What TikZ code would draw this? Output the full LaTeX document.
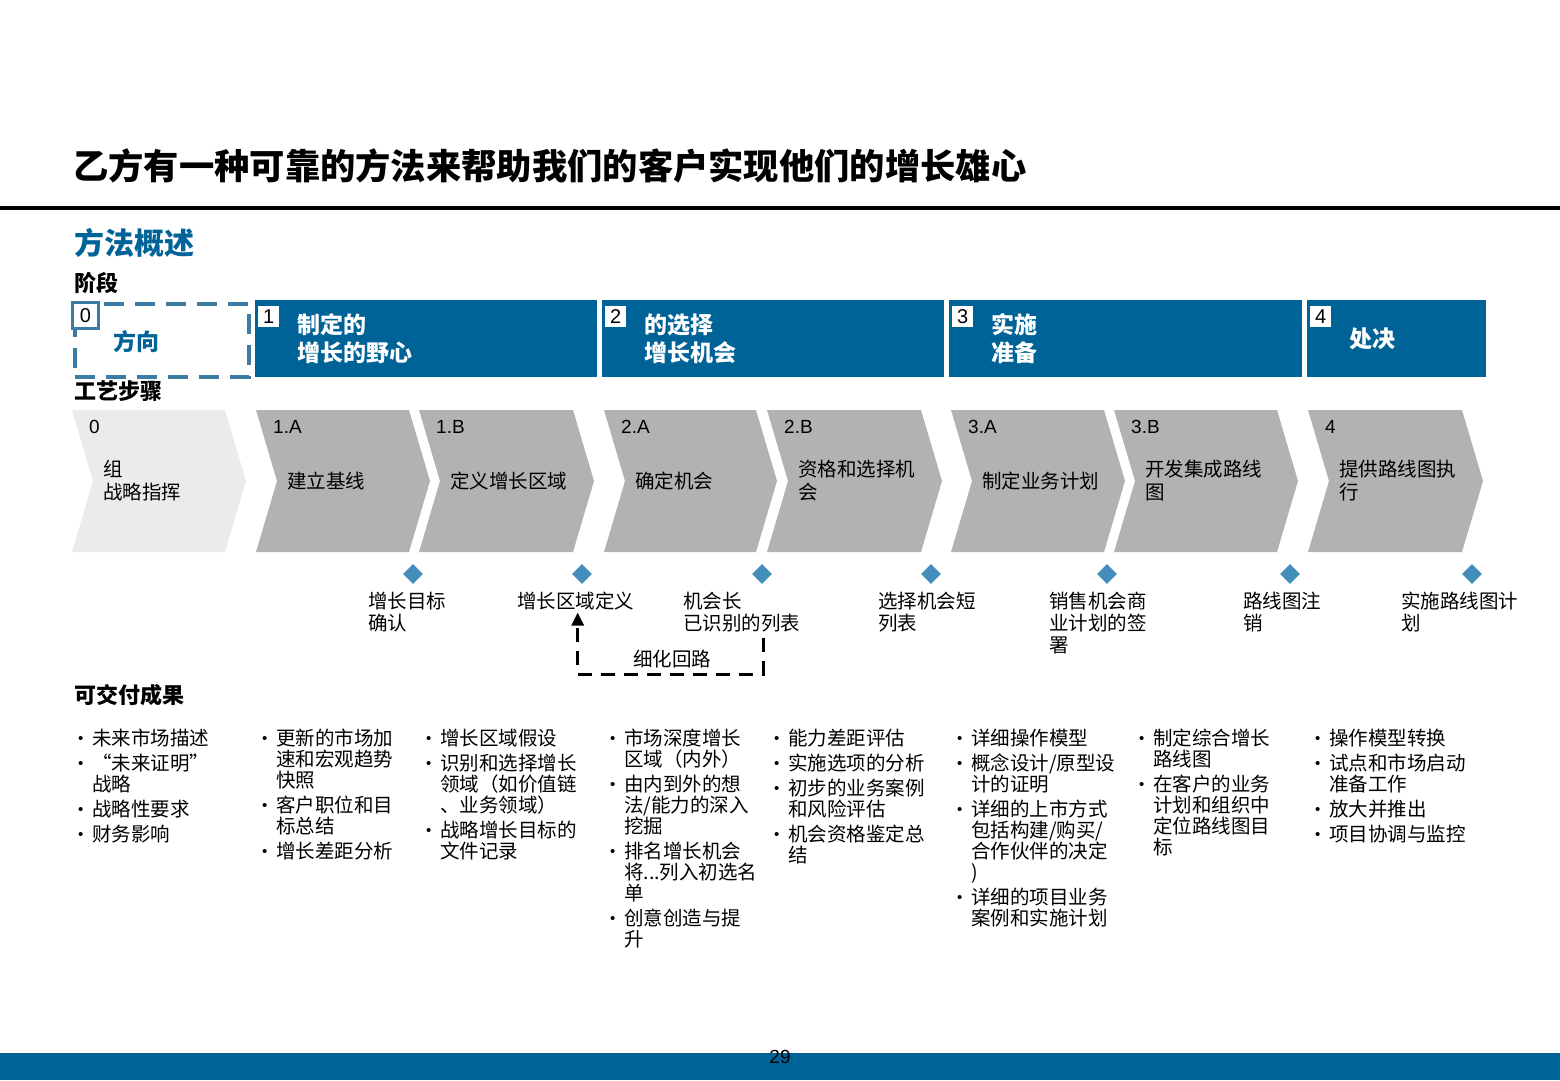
\documentclass[tikz,border=0pt]{standalone}
\usepackage{fontspec}
\setmainfont{Noto Sans CJK SC}
\newfontfamily\latinfont{Liberation Sans}
\usetikzlibrary{
    positioning,
    arrows.meta,
    shapes.geometric
}
\definecolor{phaseBlue}{RGB}{0, 99, 152}
\definecolor{dashBlue}{RGB}{60, 124, 164}
\definecolor{markBlue}{RGB}{66, 141, 185}
\definecolor{stepGray}{RGB}{178, 178, 178}
\definecolor{stepLight}{RGB}{235, 235, 235}
\newcommand{\dlv}[1]{\par\hangindent=14pt\hangafter=1\noindent\makebox[14pt][l]{\raisebox{2pt}{\latinfont\fontsize{15}{15}\selectfont\textbullet}}{\let\\\newline #1}\par\vspace{4pt}}

\begin{document}
\begin{tikzpicture}[x=1pt, y=-1pt,
    heading/.style={anchor=west, inner sep=0, font=\bfseries\fontsize{22}{26}\selectfont},
    phasebox/.style={anchor=north west, fill=phaseBlue, minimum height=77pt, inner sep=0},
    numbox/.style={anchor=north west, fill=white, minimum width=21pt, minimum height=21pt, inner sep=0, font=\latinfont\fontsize{20}{20}\selectfont},
    phasetitle/.style={anchor=west, inner sep=0, align=left, text=white, font=\bfseries\fontsize{23}{28}\selectfont},
    stepnum/.style={anchor=west, inner sep=0, font=\latinfont\fontsize{19}{20}\selectfont},
    steptext/.style={anchor=west, inner sep=0, align=left, font=\fontsize{19.5}{23}\selectfont},
    milestone/.style={diamond, fill=markBlue, inner sep=0, minimum size=20pt},
    mslabel/.style={anchor=north west, inner sep=0, align=left, font=\fontsize{19.5}{22}\selectfont},
    loopline/.style={line width=3pt, dash pattern=on 14pt off 9pt, -{Triangle[length=13pt, width=12pt]}},
    dlvcol/.style={anchor=north west, inner sep=0, text width=175pt, align=left, font=\fontsize{19.5}{21}\selectfont}
]
    \useasboundingbox (0,0) rectangle (1560,1080);
    % title and rule
    \node[anchor=west, inner sep=0, font=\bfseries\fontsize{35.3}{40}\selectfont] (title) at (73,166) {乙方有一种可靠的方法来帮助我们的客户实现他们的增长雄心};
    \draw[line width=4.5pt] (0,208) -- (1560,208);
    \node[heading, text=phaseBlue, font=\bfseries\fontsize{30}{34}\selectfont] (overview) at (74,243) {方法概述};
    \node[heading] (phases) at (74,283) {阶段};
    \node[heading] (steps) at (74,391) {工艺步骤};
    \node[heading] (results) at (74,695) {可交付成果};

    % phases
    \node[anchor=north west, draw=dashBlue, line width=3.5pt, dash pattern=on 20pt off 11pt, minimum width=174pt, minimum height=73pt, inner sep=0] (ph0) at (73,302) {};
    \node[phasebox, minimum width=342pt] (ph1) at (255,300) {};
    \node[phasebox, minimum width=342pt] (ph2) at (602,300) {};
    \node[phasebox, minimum width=353pt] (ph3) at (949,300) {};
    \node[phasebox, minimum width=179pt] (ph4) at (1307,300) {};
    \node[numbox, draw=dashBlue, line width=3pt, minimum width=26pt, minimum height=26pt] (n0) at (71,301) {0};
    \foreach \i in {1,...,4}
        \node[numbox] (n\i) at ([xshift=3pt, yshift=-6pt]ph\i.north west) {\i};
    \node[phasetitle, text=phaseBlue] (t0) at ([xshift=40pt, yshift=-1pt]ph0.west) {方向};
    \node[phasetitle] (t1) at ([xshift=42pt]ph1.west) {制定的\\增长的野心};
    \node[phasetitle] (t2) at ([xshift=42pt]ph2.west) {的选择\\增长机会};
    \node[phasetitle] (t3) at ([xshift=42pt]ph3.west) {实施\\准备};
    \node[phasetitle] (t4) at ([xshift=42pt]ph4.west) {处决};

    % process steps
    \foreach \sx/\sp/\sc/\sn/\snum/\stxt in {
        72/246/stepLight/s0/0/{组\\战略指挥},
        256/430/stepGray/s1a/1.A/{建立基线},
        419/594/stepGray/s1b/1.B/{定义增长区域},
        604/777/stepGray/s2a/2.A/{确定机会},
        767/942/stepGray/s2b/2.B/{资格和选择机\\会},
        951/1125/stepGray/s3a/3.A/{制定业务计划},
        1114/1298/stepGray/s3b/3.B/{开发集成路线\\图},
        1308/1483/stepGray/s4/4/{提供路线图执\\行}}
    {
        \fill[\sc] (\sx,410) -- (\sp-21,410) -- (\sp,481) -- (\sp-21,552) -- (\sx,552) -- (\sx+21,481) -- cycle;
        \node[stepnum] (\sn-num) at (\sx+17,427) {\snum};
        \node[steptext] (\sn) at (\sx+31,481) {\stxt};
    }

    % milestones
    \foreach \mx/\mn in {413/d1, 582/d2, 762/d3, 931/d4, 1107/d5, 1290/d6, 1472/d7}
        \node[milestone] (\mn) at (\mx,574) {};
    \foreach \lx/\ln/\ltxt in {
        368/m1/{增长目标\\确认},
        517/m2/{增长区域定义},
        683/m3/{机会长\\已识别的列表},
        878/m4/{选择机会短\\列表},
        1049/m5/{销售机会商\\业计划的签\\署},
        1243/m6/{路线图注\\销},
        1401/m7/{实施路线图计\\划}}
        \node[mslabel] (\ln) at (\lx,592) {\ltxt};

    % refinement loop
    \coordinate (loopStart) at (763,638);
    \draw[loopline] (loopStart) -- ++(0,36) -| ([xshift=2pt, yshift=-2pt]m2.south);
    \node[font=\fontsize{19.5}{22}\selectfont, inner sep=0] (loopLbl) at (672,659) {细化回路};

    % deliverables
    \node[dlvcol] (c1) at (78,724) {\dlv{未来市场描述}\dlv{“未来证明”\\战略}\dlv{战略性要求}\dlv{财务影响}};
    \node[dlvcol] (c2) at (262,724) {\dlv{更新的市场加\\速和宏观趋势\\快照}\dlv{客户职位和目\\标总结}\dlv{增长差距分析}};
    \node[dlvcol] (c3) at (426,724) {\dlv{增长区域假设}\dlv{识别和选择增长\\领域（如价值链\\、业务领域）}\dlv{战略增长目标的\\文件记录}};
    \node[dlvcol] (c4) at (610,724) {\dlv{市场深度增长\\区域（内外）}\dlv{由内到外的想\\法/能力的深入\\挖掘}\dlv{排名增长机会\\将...列入初选名\\单}\dlv{创意创造与提\\升}};
    \node[dlvcol] (c5) at (774,724) {\dlv{能力差距评估}\dlv{实施选项的分析}\dlv{初步的业务案例\\和风险评估}\dlv{机会资格鉴定总\\结}};
    \node[dlvcol] (c6) at (957,724) {\dlv{详细操作模型}\dlv{概念设计/原型设\\计的证明}\dlv{详细的上市方式\\包括构建/购买/\\合作伙伴的决定\\)}\dlv{详细的项目业务\\案例和实施计划}};
    \node[dlvcol] (c7) at (1139,724) {\dlv{制定综合增长\\路线图}\dlv{在客户的业务\\计划和组织中\\定位路线图目\\标}};
    \node[dlvcol] (c8) at (1315,724) {\dlv{操作模型转换}\dlv{试点和市场启动\\准备工作}\dlv{放大并推出}\dlv{项目协调与监控}};

    % footer
    \fill[phaseBlue] (0,1053) rectangle (1560,1080);
    \node[inner sep=0, font=\latinfont\fontsize{19}{20}\selectfont] (pagenum) at (780,1057) {29};
\end{tikzpicture}
\end{document}
